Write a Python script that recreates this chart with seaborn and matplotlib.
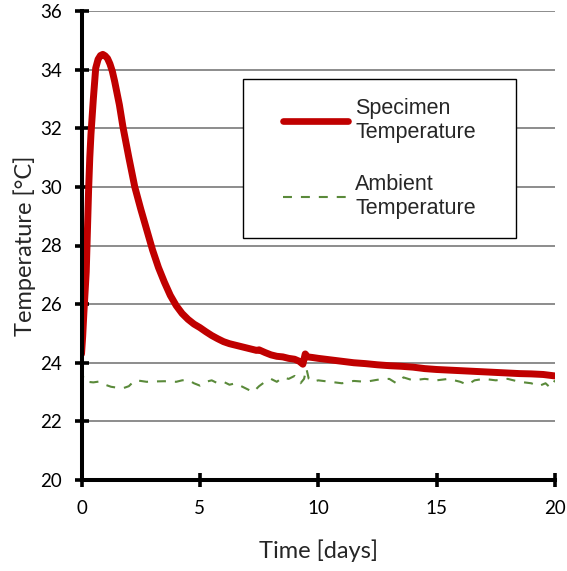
import matplotlib
matplotlib.use("Agg")
import matplotlib.pyplot as plt
from matplotlib.patches import Rectangle
from matplotlib.lines import Line2D
import pandas as pd
import seaborn as sns

# Specimen (core) temperature over the curing period
specimen_days = [0.0, 0.05, 0.1, 0.15, 0.2, 0.25, 0.3, 0.35, 0.4, 0.5, 0.6, 0.7,
                 0.8, 0.9, 1.0, 1.1, 1.2, 1.3, 1.4, 1.5, 1.6, 1.75, 2.0, 2.25, 2.5,
                 2.75, 3.0, 3.25, 3.5, 3.75, 4.0, 4.25, 4.5, 4.75, 5.0, 5.25,
                 5.5, 5.75, 6.0, 6.25, 6.5, 6.75, 7.0, 7.2, 7.4, 7.5, 7.75, 8.0,
                 8.25, 8.5, 8.75, 9.0, 9.2, 9.35, 9.45, 9.55, 9.75, 10.0, 10.5,
                 11.0, 11.5, 12.0, 12.5, 13.0, 13.5, 14.0, 14.5, 15.0, 15.5,
                 16.0, 16.5, 17.0, 17.5, 18.0, 18.5, 19.0, 19.5, 20.0]
specimen_temp = [24.3, 24.9, 25.7, 26.4, 27.1, 28.5, 29.9, 31.0, 31.8, 33.0, 34.05, 34.35,
                 34.48, 34.52, 34.47, 34.38, 34.2, 33.95, 33.6, 33.2, 32.8, 32.05, 31.0, 30.0, 29.25,
                 28.55, 27.85, 27.25, 26.75, 26.3, 25.95, 25.68, 25.48, 25.32, 25.2, 25.06,
                 24.93, 24.82, 24.72, 24.65, 24.6, 24.55, 24.5, 24.46, 24.42, 24.44, 24.35, 24.27,
                 24.22, 24.2, 24.15, 24.12, 24.05, 23.95, 24.3, 24.2, 24.18, 24.15, 24.1,
                 24.05, 24.0, 23.97, 23.93, 23.9, 23.88, 23.85, 23.8, 23.77, 23.75,
                 23.73, 23.71, 23.69, 23.67, 23.65, 23.63, 23.62, 23.6, 23.55]

# Ambient (room) temperature
ambient_days = [0.0, 0.1, 0.25, 0.5, 0.75, 1.0, 1.25, 1.5, 1.75, 2.0, 2.25, 2.5,
                2.75, 3.0, 3.5, 4.0, 4.25, 4.5, 4.75, 5.0, 5.25, 5.5, 5.75, 6.0,
                6.25, 6.5, 6.75, 7.0, 7.25, 7.5, 7.75, 8.0, 8.25, 8.5, 8.75, 9.0,
                9.25, 9.4, 9.5, 9.6, 9.75, 10.0, 10.5, 11.0, 11.5, 12.0, 12.5, 13.0,
                13.3, 13.6, 14.0, 14.5, 15.0, 15.5, 16.0, 16.3, 16.6, 17.0, 17.5,
                18.0, 18.5, 19.0, 19.3, 19.6, 19.8, 20.0]
ambient_temp = [23.8, 23.4, 23.35, 23.33, 23.36, 23.25, 23.18, 23.15, 23.13, 23.2, 23.4, 23.38,
                23.35, 23.36, 23.37, 23.35, 23.4, 23.42, 23.3, 23.22, 23.35, 23.4, 23.3, 23.35,
                23.25, 23.3, 23.2, 23.1, 23.0, 23.2, 23.35, 23.45, 23.35, 23.5, 23.45, 23.55,
                23.3, 23.45, 23.8, 23.45, 23.35, 23.4, 23.35, 23.3, 23.38, 23.35, 23.42, 23.45,
                23.3, 23.5, 23.4, 23.45, 23.4, 23.45, 23.35, 23.25, 23.4, 23.45, 23.4,
                23.45, 23.35, 23.3, 23.2, 23.3, 23.15, 23.4]

x_ticks = [0, 5, 10, 15, 20]
y_ticks = [20, 22, 24, 26, 28, 30, 32, 34, 36]
series_labels = ["Specimen\nTemperature", "Ambient\nTemperature"]

RED = "#C00000"
GREEN = "#5A8A3A"

sns.set_style("white")
plt.rcParams["font.family"] = ["Lato", "DejaVu Sans"]

fig = plt.figure(figsize=(5.67, 5.71), dpi=100)
ax = fig.add_axes([81.5 / 567, 1 - 480 / 571, 473.5 / 567, 469 / 571])

spec_df = pd.DataFrame({"day": specimen_days, "temp": specimen_temp})
amb_df = pd.DataFrame({"day": ambient_days, "temp": ambient_temp})

sns.lineplot(data=amb_df, x="day", y="temp", ax=ax, color=GREEN, lw=1.5,
             dashes=False, zorder=3)
ax.lines[-1].set_dashes((4.3, 4.3))
sns.lineplot(data=spec_df, x="day", y="temp", ax=ax, color=RED, lw=5.0,
             zorder=4, solid_joinstyle="round", solid_capstyle="round")

ax.set_xlim(0, 20)
ax.set_ylim(20, 36)
ax.set_xticks(x_ticks)
ax.set_yticks(y_ticks)

ax.yaxis.grid(True, color="#8C8C8C", lw=1.4)
ax.xaxis.grid(False)
ax.set_axisbelow(True)

for side in ("top", "right"):
    ax.spines[side].set_visible(False)
for side in ("left", "bottom"):
    ax.spines[side].set_visible(True)
    ax.spines[side].set_color("black")
    ax.spines[side].set_linewidth(2.9)
    ax.spines[side].set_zorder(5)

ax.tick_params(axis="both", which="major", bottom=True, left=True,
               direction="inout", length=10, width=2.6,
               color="black", labelsize=13.5, labelcolor="black")
ax.tick_params(axis="y", pad=9.0)
ax.tick_params(axis="x", pad=9.5)

ax.set_xlabel("Time [days]", fontsize=17, labelpad=16)
ax.set_ylabel("Temperature [°C]", fontsize=17, labelpad=3)

# Legend box with its own frame
x0, x1 = (243 - 81.5) / 473.5, (516 - 81.5) / 473.5
y0, y1 = (480 - 238) / 469, (480 - 79) / 469
ax.add_patch(Rectangle((x0, y0), x1 - x0, y1 - y0, transform=ax.transAxes,
                       facecolor="white", edgecolor="black", lw=1.0, zorder=6))
handles = [Line2D([], [], color=RED, lw=4.8, solid_capstyle="round"),
           Line2D([], [], color=GREEN, lw=1.5, dashes=(4.3, 4.3))]
leg = ax.legend(handles, series_labels, loc="center",
                bbox_to_anchor=((x0 + x1) / 2, (y0 + y1) / 2),
                frameon=False, prop={"family": "Liberation Sans", "size": 15.5},
                handlelength=3.0, handletextpad=0.35, labelspacing=1.45)
leg.set_zorder(7)
for t in leg.get_texts():
    t.set_linespacing(1.15)

fig.savefig("out.png", dpi=100)
